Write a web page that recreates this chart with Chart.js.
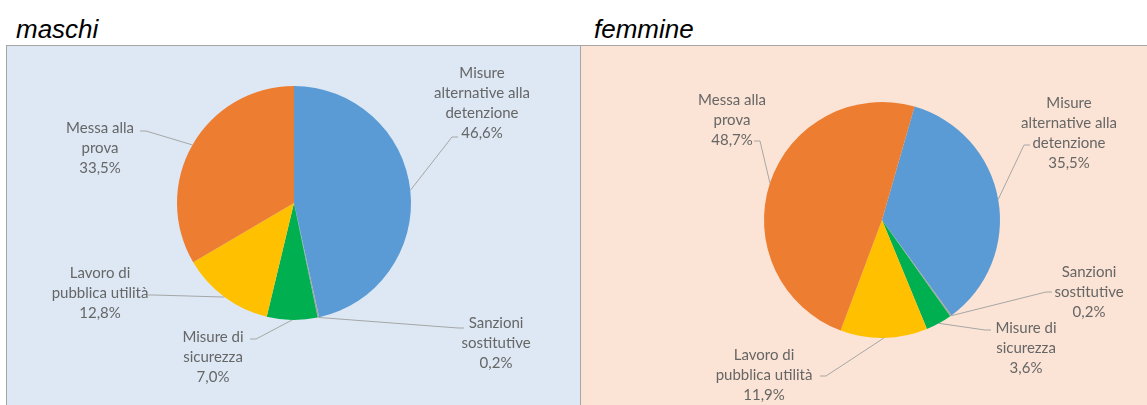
<!DOCTYPE html>
<html>
<head>
<meta charset="utf-8">
<script src="https://cdn.jsdelivr.net/npm/chart.js@4.4.1/dist/chart.umd.min.js"></script>
<style>
  html, body { margin: 0; padding: 0; background: #fff; overflow: hidden; }
  body { width: 1147px; height: 405px; position: relative; }
  .titolo { position: absolute; top: 16px; font: italic 26px "Liberation Sans", Arial, sans-serif; line-height: 26px; color: #000; }
  .pannello { position: absolute; top: 45px; height: 380px; border: 1px solid #a6a6a6; box-sizing: border-box; }
  .pannello .box { position: absolute; left: 0; top: 0; }
</style>
</head>
<body>
<div class="titolo" style="left:16px">maschi</div>
<div class="titolo" style="left:594px">femmine</div>
<div class="pannello" id="pM" style="left:6px; width:575px; background:#dde8f4">
  <div class="box" style="width:573px; height:359px"><canvas id="chartMaschi"></canvas></div>
</div>
<div class="pannello" id="pF" style="left:580px; width:600px; background:#fbe4d5">
  <div class="box" style="width:598px; height:359px"><canvas id="chartFemmine"></canvas></div>
</div>
<script>
// Dati (percentuali per tipo di misura)
const categorie = [
  ['Misure', 'alternative alla', 'detenzione'],
  ['Sanzioni', 'sostitutive'],
  ['Misure di', 'sicurezza'],
  ['Lavoro di', 'pubblica utilità'],
  ['Messa alla', 'prova']
];
const valoriMaschi = [46.6, 0.2, 7.0, 12.8, 33.5];
const valoriFemmine = [35.5, 0.2, 3.6, 11.9, 48.7];
const colori = ['#5b9bd5', '#a5a5a5', '#00b050', '#ffc000', '#ed7d31'];

// Posizione etichette rispetto al centro della torta (t = testo, a = attacco linea)
const posMaschi = [
  { tx: 188, ty: -130, ax: 164, ay: -66 },
  { tx: 202, ty: 120, ax: 170, ay: 125 },
  { tx: -81, ty: 134, ax: -44, ay: 136 },
  { tx: -194, ty: 70, ax: -146, ay: 92 },
  { tx: -194, ty: -75, ax: -154, ay: -72 }
];
const posFemmine = [
  { tx: 187, ty: -117, ax: 148, ay: -75 },
  { tx: 207, ty: 52, ax: 170, ay: 72 },
  { tx: 144, ty: 108, ax: 109, ay: 110 },
  { tx: -118, ty: 135, ax: -62, ay: 156 },
  { tx: -150, ty: -120, ax: -128, ay: -79 }
];

const interlinea = 20;

function formatta(v) {
  return v.toFixed(1).replace('.', ',') + '%';
}

// Etichette con linee guida stile Excel
const etichettePlugin = {
  id: 'etichette',
  afterDatasetsDraw(chart, args, opts) {
    const ctx = chart.ctx;
    const meta = chart.getDatasetMeta(0);
    const valori = chart.data.datasets[0].data;
    ctx.save();
    meta.data.forEach((arc, i) => {
      const p = opts.pos[i];
      const mid = (arc.startAngle + arc.endAngle) / 2;
      const px = arc.x + Math.cos(mid) * arc.outerRadius;
      const py = arc.y + Math.sin(mid) * arc.outerRadius;
      const ax = arc.x + p.ax;
      const ay = arc.y + p.ay;
      const kx = ax + (px < ax ? -6 : 6);
      ctx.strokeStyle = '#a6a6a6';
      ctx.lineWidth = 1;
      ctx.beginPath();
      ctx.moveTo(ax, ay);
      ctx.lineTo(kx, ay);
      ctx.lineTo(px, py);
      ctx.stroke();

      const righe = chart.data.labels[i].concat([formatta(valori[i])]);
      ctx.fillStyle = '#666666';
      ctx.font = '15px Lato';
      ctx.textAlign = 'center';
      ctx.textBaseline = 'middle';
      righe.forEach((r, k) => {
        ctx.fillText(r, arc.x + p.tx, arc.y + p.ty + k * interlinea);
      });
    });
    ctx.restore();
  }
};

function padding(cx, cy, w, h) {
  return {
    left: Math.max(0, 2 * cx - w),
    right: Math.max(0, w - 2 * cx),
    top: Math.max(0, 2 * cy - h),
    bottom: Math.max(0, h - 2 * cy)
  };
}

function creaTorta(id, valori, pos, cx, cy, w, h, raggio, rotazione) {
  new Chart(document.getElementById(id), {
    type: 'pie',
    data: {
      labels: categorie,
      datasets: [{
        data: valori,
        backgroundColor: colori,
        borderWidth: 0,
        hoverOffset: 0,
        radius: raggio
      }]
    },
    options: {
      responsive: true,
      maintainAspectRatio: false,
      animation: false,
      rotation: rotazione,
      layout: { padding: padding(cx, cy, w, h) },
      plugins: {
        legend: { display: false },
        tooltip: { enabled: false },
        etichette: { pos: pos }
      }
    },
    plugins: [etichettePlugin]
  });
}

document.fonts.load('15px Lato').then(() => {
  // centro torta in coordinate del canvas (pannello sinistro parte da x=7, y=46)
  creaTorta('chartMaschi', valoriMaschi, posMaschi, 287, 157, 573, 359, 117, 0);
  creaTorta('chartFemmine', valoriFemmine, posFemmine, 301, 174, 598, 359, 118, 16);
});
</script>
</body>
</html>
